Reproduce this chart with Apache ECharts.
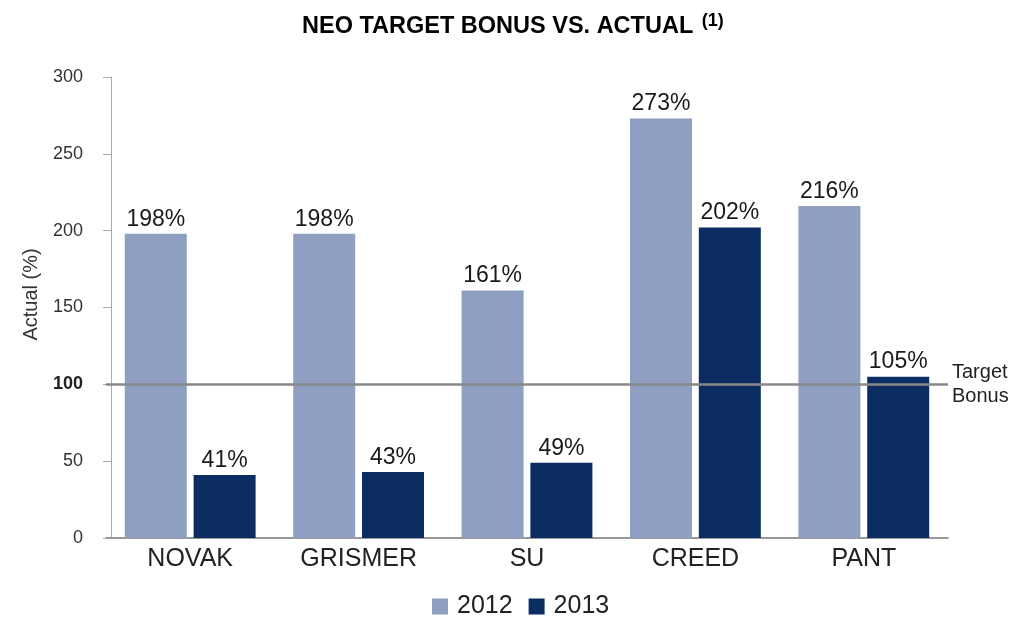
<!DOCTYPE html>
<html lang="en">
<head>
    <meta charset="UTF-8">
    <title>NEO Target Bonus vs. Actual</title>
    <style>
        html, body { margin: 0; padding: 0; background: #fff; }
        .chart { width: 1013px; height: 617px; }
    </style>
    <script src="https://cdn.jsdelivr.net/npm/echarts@6/dist/echarts.min.js"></script>
</head>
<body>
<div class="chart" id="chart"></div>
<script>
    // data
    var names = ["NOVAK", "GRISMER", "SU", "CREED", "PANT"];
    var actual2012 = [198, 198, 161, 273, 216];
    var actual2013 = [41, 43, 49, 202, 105];
    var targetBonus = 100;
    var yTicks = [0, 50, 100, 150, 200, 250, 300];

    var font = "Liberation Sans, Arial, sans-serif";
    var my_chart = echarts.init(document.getElementById("chart"));

    // 柱顶标签
    var labelStyle = {
        show: true,
        position: "top",
        distance: 3,
        formatter: "{c}%",
        fontFamily: font,
        fontSize: 23,
        color: "#1a1a1a"
    };

    var option = {
        animation: false,
        title: {
            text: "NEO TARGET BONUS VS. ACTUAL {sup|(1)}",
            left: 297,
            top: 7,
            textStyle: {
                fontFamily: font,
                fontSize: 23.5,
                fontWeight: "bold",
                color: "#000",
                rich: {
                    sup: {
                        fontFamily: font,
                        fontSize: 18,
                        fontWeight: "bold",
                        color: "#000",
                        verticalAlign: "top",
                        padding: [0, 0, 12, 2]
                    }
                }
            }
        },
        legend: {
            top: 589,
            left: 427,
            itemWidth: 16,
            itemHeight: 16,
            itemGap: 16,
            icon: "rect",
            textStyle: { fontFamily: font, fontSize: 25, color: "#222", padding: [0, 0, 0, 4] },
            data: ["2012", "2013"]
        },
        grid: { left: 106, width: 842, top: 77, bottom: 79 },
        xAxis: {
            type: "category",
            data: names,
            axisLine: { lineStyle: { color: "#777", width: 1.5 } },
            axisTick: { show: false },
            axisLabel: { fontFamily: font, fontSize: 25, color: "#222", margin: 9 }
        },
        yAxis: {
            type: "value",
            min: yTicks[0],
            max: yTicks[yTicks.length - 1],
            interval: 50,
            offset: -5,
            name: "Actual (%)",
            nameLocation: "middle",
            nameGap: 70,
            nameTextStyle: { fontFamily: font, fontSize: 20, color: "#333", padding: [0, 0, 0, 26] },
            axisLine: { show: true, lineStyle: { color: "#aaa" } },
            axisTick: { show: true, length: 8, lineStyle: { color: "#aaa" } },
            splitLine: { show: false },
            axisLabel: {
                fontFamily: font,
                fontSize: 18,
                color: "#333",
                margin: 28,
                formatter: function (v) {
                    return v === targetBonus ? "{b|" + v + "}" : String(v);
                },
                rich: {
                    b: { fontFamily: font, fontSize: 18, fontWeight: "bold", color: "#222" }
                }
            }
        },
        series: [
            {
                name: "2012",
                type: "bar",
                barWidth: 62,
                barGap: "11%",
                itemStyle: { color: "#8e9fc2" },
                label: labelStyle,
                data: actual2012
            },
            {
                name: "2013",
                type: "bar",
                barWidth: 62,
                itemStyle: { color: "#0c2d62" },
                label: labelStyle,
                data: actual2013,
                markLine: {
                    silent: true,
                    symbol: "none",
                    lineStyle: { color: "#888", width: 2.5, type: "solid" },
                    label: {
                        position: "end",
                        distance: 4,
                        formatter: "Target\nBonus",
                        fontFamily: font,
                        fontSize: 20,
                        lineHeight: 24,
                        color: "#222",
                        align: "left"
                    },
                    data: [{ yAxis: targetBonus }]
                }
            }
        ]
    };
    my_chart.setOption(option);
</script>
</body>
</html>
